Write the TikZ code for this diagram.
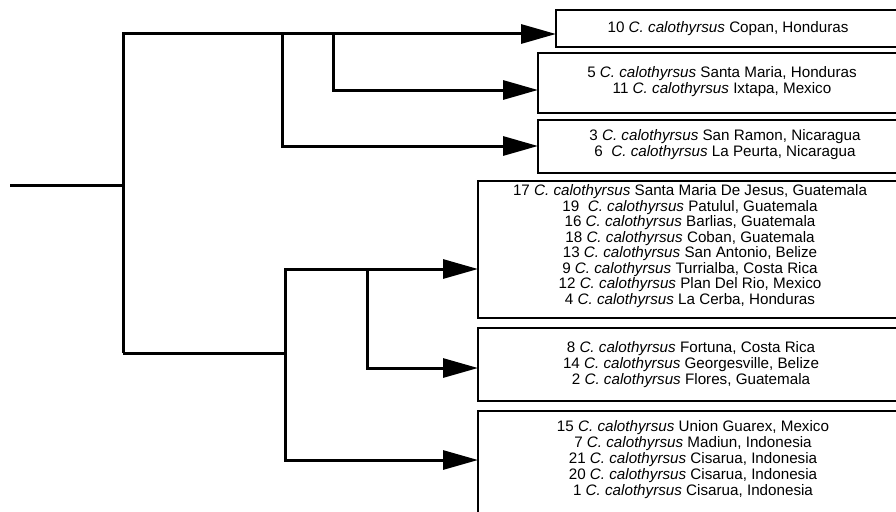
\documentclass[tikz,border=0pt]{standalone}
\usepackage{fontspec}
\setmainfont{Liberation Sans}
\usetikzlibrary{arrows.meta}
\begin{document}
\begin{tikzpicture}[x=1pt,y=-1pt,
  branch/.style={line width=3pt, line join=miter},
  arr/.style={branch, -{Triangle[length=35pt,width=19pt]}},
  taxbox/.style={draw, line width=1.6pt, inner sep=0pt, outer sep=0pt, anchor=north west},
  taxtext/.style={align=center, inner sep=0pt, font=\fontsize{15.2}{16}\selectfont}]
\clip (0,0) rectangle (896,511);
% boxes
\node[taxbox, minimum width=350pt, minimum height=37pt] (b1) at (556,10) {};
\node[taxbox, minimum width=368pt, minimum height=60pt] (b2) at (538,53) {};
\node[taxbox, minimum width=368pt, minimum height=53pt] (b3) at (538,120) {};
\node[taxbox, minimum width=428pt, minimum height=137pt] (b4) at (478,181) {};
\node[taxbox, minimum width=428pt, minimum height=73pt] (b5) at (478,328) {};
\node[taxbox, minimum width=428pt, minimum height=130pt] (b6) at (478,411) {};
% texts
\node[taxtext] (t1) at (728,28.5) {10 \textit{C. calothyrsus} Copan, Honduras};
\node[taxtext] (t2) at (722,82) {5 \textit{C. calothyrsus} Santa Maria, Honduras\\11 \textit{C. calothyrsus} Ixtapa, Mexico};
\node[taxtext] (t3) at (725,145) {3 \textit{C. calothyrsus} San Ramon, Nicaragua\\6\ \ \textit{C. calothyrsus} La Peurta, Nicaragua};
\node[taxtext, font=\fontsize{15.2}{15.5}\selectfont] (t4) at (690,246) {17 \textit{C. calothyrsus} Santa Maria De Jesus, Guatemala\\19\ \ \textit{C. calothyrsus} Patulul, Guatemala\\16 \textit{C. calothyrsus} Barlias, Guatemala\\18 \textit{C. calothyrsus} Coban, Guatemala\\13 \textit{C. calothyrsus} San Antonio, Belize\\9 \textit{C. calothyrsus} Turrialba, Costa Rica\\12 \textit{C. calothyrsus} Plan Del Rio, Mexico\\4 \textit{C. calothyrsus} La Cerba, Honduras};
\node[taxtext] (t5) at (691,365) {8 \textit{C. calothyrsus} Fortuna, Costa Rica\\14 \textit{C. calothyrsus} Georgesville, Belize\\2 \textit{C. calothyrsus} Flores, Guatemala};
\node[taxtext] (t6) at (693,460) {15 \textit{C. calothyrsus} Union Guarex, Mexico\\7 \textit{C. calothyrsus} Madiun, Indonesia\\21 \textit{C. calothyrsus} Cisarua, Indonesia\\20 \textit{C. calothyrsus} Cisarua, Indonesia\\1 \textit{C. calothyrsus} Cisarua, Indonesia};
% tree points
\coordinate (root) at (10,185);
\coordinate (r) at (123,185);
\coordinate (top) at (123,34);
\coordinate (low) at (123,353);
\coordinate (c1) at (282,34);
\coordinate (c1b) at (282,146);
\coordinate (c2) at (333,34);
\coordinate (c2b) at (333,90);
\coordinate (d) at (285,353);
\coordinate (d1) at (285,269);
\coordinate (d2) at (285,460);
\coordinate (e) at (367,269);
\coordinate (e2) at (367,368);
% connectors
\draw[branch] (root) -- (r);
\draw[arr] (low) -- (top) -- (top -| b1.west);
\draw[arr] (c1) -- (c1b) -- (c1b -| b3.west);
\draw[arr] (c2) -- (c2b) -- (c2b -| b2.west);
\draw[branch] (low) -- (d);
\draw[arr] (d) -- (d1) -- (d1 -| b4.west);
\draw[arr] (d) -- (d2) -- (d2 -| b6.west);
\draw[arr] (e) -- (e2) -- (e2 -| b5.west);
\end{tikzpicture}
\end{document}
